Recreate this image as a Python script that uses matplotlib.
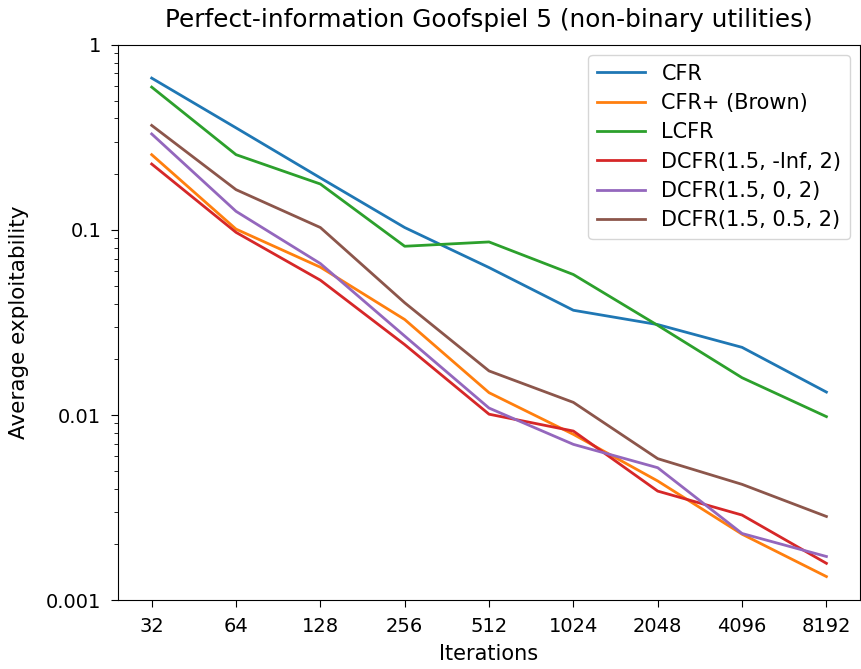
import matplotlib
matplotlib.use("Agg")
import matplotlib.pyplot as plt
from matplotlib.ticker import FixedLocator, FixedFormatter, NullLocator, LogLocator

iterations = [32, 64, 128, 256, 512, 1024, 2048, 4096, 8192]
cfr = [0.661, 0.356, 0.191, 0.103, 0.0626, 0.0368, 0.0308, 0.0232, 0.0133]
cfr_plus = [0.255, 0.101, 0.0629, 0.0328, 0.0132, 0.00786, 0.00440, 0.00227, 0.00134]
lcfr = [0.591, 0.255, 0.177, 0.0816, 0.0861, 0.0574, 0.0305, 0.0159, 0.0098]
dcfr_inf = [0.227, 0.097, 0.0535, 0.0240, 0.0101, 0.00819, 0.00388, 0.00288, 0.00158]
dcfr_0 = [0.330, 0.126, 0.0658, 0.0267, 0.0109, 0.00694, 0.00519, 0.00229, 0.00172]
dcfr_05 = [0.367, 0.165, 0.103, 0.0404, 0.0173, 0.0117, 0.00581, 0.00422, 0.00283]

series = [
    (cfr, "CFR"),
    (cfr_plus, "CFR+ (Brown)"),
    (lcfr, "LCFR"),
    (dcfr_inf, "DCFR(1.5, -Inf, 2)"),
    (dcfr_0, "DCFR(1.5, 0, 2)"),
    (dcfr_05, "DCFR(1.5, 0.5, 2)"),
]
yticks = [0.001, 0.01, 0.1, 1]
ytick_labels = ["0.001", "0.01", "0.1", "1"]

fig = plt.figure(figsize=(8.61, 6.69), dpi=100)
ax = fig.add_axes([0.137, 0.103, 0.862, 0.830])

for vals, name in series:
    ax.plot(iterations, vals, label=name, linewidth=2)

ax.set_xscale("log", base=2)
ax.set_yscale("log")
ax.set_ylim(0.001, 1)
ax.xaxis.set_major_locator(FixedLocator(iterations))
ax.xaxis.set_major_formatter(FixedFormatter([str(i) for i in iterations]))
ax.xaxis.set_minor_locator(NullLocator())
ax.yaxis.set_major_locator(FixedLocator(yticks))
ax.yaxis.set_major_formatter(FixedFormatter(ytick_labels))
ax.yaxis.set_minor_locator(LogLocator(base=10, subs=range(2, 10)))
ax.tick_params(which="major", labelsize=14, length=5, pad=7)
ax.tick_params(which="minor", length=3)

ax.set_xlabel("Iterations", fontsize=15, labelpad=6)
ax.set_ylabel("Average exploitability", fontsize=15.5, labelpad=12)
ax.set_title("Perfect-information Goofspiel 5 (non-binary utilities)", fontsize=17.8, pad=13)
ax.legend(loc="upper right", fontsize=15, handlelength=2.3, labelspacing=0.45)

fig.savefig("out.png", dpi=100)
